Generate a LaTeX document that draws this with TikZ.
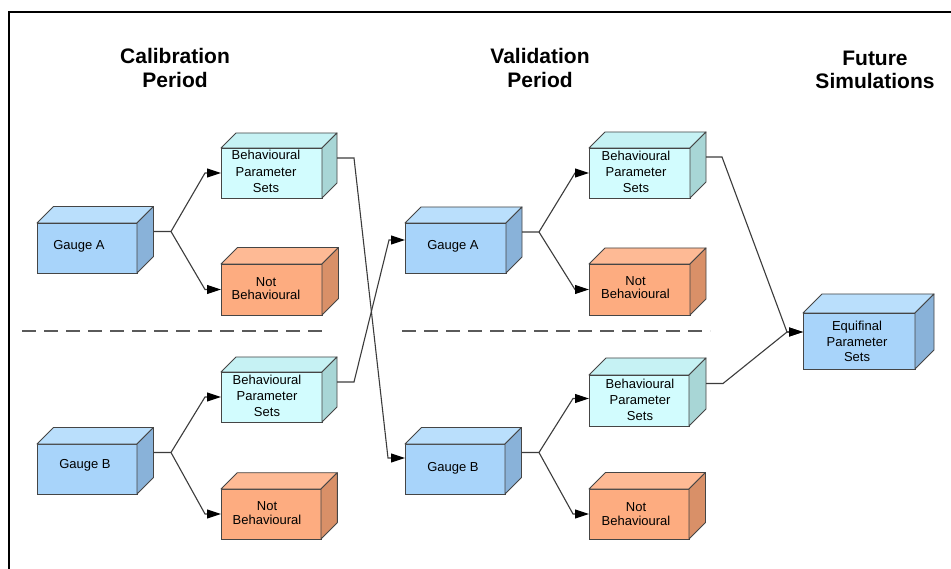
\documentclass[tikz,border=0pt]{standalone}
\usepackage{fontspec}
\setmainfont{Liberation Sans}
\usetikzlibrary{arrows.meta,calc}
\definecolor{edgec}{HTML}{454545}
\definecolor{linec}{HTML}{3C3C3C}
\definecolor{dashc}{HTML}{5A5A5A}
\definecolor{blueF}{HTML}{A8D4FA}
\definecolor{blueT}{HTML}{BADFFC}
\definecolor{blueS}{HTML}{89B2D9}
\definecolor{cyanF}{HTML}{D2FCFE}
\definecolor{cyanT}{HTML}{C6F2F4}
\definecolor{cyanS}{HTML}{A8D6D6}
\definecolor{oranF}{HTML}{FDAC80}
\definecolor{oranT}{HTML}{FEBA95}
\definecolor{oranS}{HTML}{D99068}
\tikzset{
  front/.style={draw=edgec, line width=0.9pt, inner sep=0pt, outer sep=0pt, anchor=north west},
  face/.style={draw=edgec, line width=0.9pt, line join=round},
  conn/.style={draw=linec, line width=1.1pt, -{Triangle[length=14pt,width=9pt,color=black]}},
  boxtxt/.style={anchor=base, align=center, inner sep=0pt, text=black},
  ttl/.style={anchor=base, align=center, inner sep=0pt, font=\bfseries\fontsize{21}{23.5}\selectfont},
  divider/.style={draw=dashc, line width=1.4pt, dash pattern=on 14pt off 8pt},
}
% name, x1, y1, x2, y2, depth, colour family
\newcommand\mkcube[7]{%
  \node[front, fill=#7F, minimum width={(#4-#2)*1pt}, minimum height={(#5-#3)*1pt}] (#1) at (#2,#3) {};
  \filldraw[face, fill=#7T] (#1.north west) -- ++(#6,-#6) -- ($(#1.north east)+(#6,-#6)$) -- (#1.north east) -- cycle;
  \filldraw[face, fill=#7S] (#1.north east) -- ++(#6,-#6) -- ($(#1.south east)+(#6,-#6)$) -- (#1.south east) -- cycle;
  \coordinate (#1-e) at ($(#1.east)+(#6,-#6)$);
}
\begin{document}
\begin{tikzpicture}[x=1pt, y=-1pt]
\useasboundingbox (0,0) rectangle (951,569);
\fill[white] (0,0) rectangle (951,569);
% frame
\draw[line width=2pt, black] (9,569) -- (9,12) -- (951,12);

% titles (y = baseline of last line)
\node[ttl] (tcal) at (175,87.3) {Calibration\\Period};
\node[ttl] (tval) at (540,87.3) {Validation\\Period};
\node[ttl] (tfut) at (875,89) {Future\\Simulations};

% dividers
\draw[divider] (22,331) -- (326,331);
\draw[divider] (402,331) -- (710,331);

% calibration column
\mkcube{cgA}{37}{223}{137}{273}{16.5}{blue}
\mkcube{cbA}{221}{148}{322}{198}{15}{cyan}
\mkcube{cnA}{221}{264}{322}{315}{16.5}{oran}
\mkcube{cgB}{37}{444}{137}{494}{16.5}{blue}
\mkcube{cbB}{221}{372}{322}{422}{15}{cyan}
\mkcube{cnB}{221}{489}{321}{539}{16.3}{oran}
% validation column
\mkcube{vgA}{405}{223}{506}{273}{16}{blue}
\mkcube{vbA}{589}{148}{690}{198}{16}{cyan}
\mkcube{vnA}{589}{264}{690}{315}{16}{oran}
\mkcube{vgB}{405}{444}{505}{494}{16.5}{blue}
\mkcube{vbB}{589}{375}{689}{426}{17}{cyan}
\mkcube{vnB}{589}{489}{689}{539}{16.5}{oran}
% future
\mkcube{eq}{803}{313}{915}{369}{19}{blue}

% texts (y = baseline of last line)
\node[boxtxt, font=\fontsize{13}{16}\selectfont] (cgA-t) at (79,250) {Gauge A};
\node[boxtxt, font=\fontsize{13}{16.5}\selectfont] (cbA-t) at (266,193) {Behavioural\\Parameter\\Sets};
\node[boxtxt, font=\fontsize{13}{13.4}\selectfont] (cnA-t) at (266,300) {Not\\Behavioural};
\node[boxtxt, font=\fontsize{13}{16}\selectfont] (cgB-t) at (85,468.3) {Gauge B};
\node[boxtxt, font=\fontsize{13}{16.3}\selectfont] (cbB-t) at (267,417) {Behavioural\\Parameter\\Sets};
\node[boxtxt, font=\fontsize{13}{13.2}\selectfont] (cnB-t) at (267,524) {Not\\Behavioural};
\node[boxtxt, font=\fontsize{13}{16}\selectfont] (vgA-t) at (453,249.5) {Gauge A};
\node[boxtxt, font=\fontsize{13}{16.2}\selectfont] (vbA-t) at (636,192.5) {Behavioural\\Parameter\\Sets};
\node[boxtxt, font=\fontsize{13}{13.2}\selectfont] (vnA-t) at (635.5,298.5) {Not\\Behavioural};
\node[boxtxt, font=\fontsize{13}{16}\selectfont] (vgB-t) at (453,471.5) {Gauge B};
\node[boxtxt, font=\fontsize{13}{16.2}\selectfont] (vbB-t) at (640,420.7) {Behavioural\\Parameter\\Sets};
\node[boxtxt, font=\fontsize{13}{13.3}\selectfont] (vnB-t) at (636,525) {Not\\Behavioural};
\node[boxtxt, font=\fontsize{13}{15.4}\selectfont] (eq-t) at (857,361.7) {Equifinal\\Parameter\\Sets};

% connectors: calibration
\draw[conn] (cgA-e) -- ++(17.5,0) coordinate (cgA-j) -- ($(cbA.west)+(-16,0)$) -- (cbA.west);
\draw[conn] (cgA-j) -- ($(cnA.west)+(-16,0)$) -- (cnA.west);
\draw[conn] (cgB-e) -- ++(17.5,0) coordinate (cgB-j) -- ($(cbB.west)+(-16,0)$) -- (cbB.west);
\draw[conn] (cgB-j) -- ($(cnB.west)+(-16,0)$) -- (cnB.west);
% crossing connectors
\draw[conn] (cbA-e) -- ++(17,0) -- ($(vgB.west)+(-17,-11)$) -- ($(vgB.west)+(0,-11)$);
\draw[conn] (cbB-e) -- ++(17,0) -- ($(vgA.west)+(-16,-8)$) -- ($(vgA.west)+(0,-8)$);
% validation
\draw[conn] (vgA-e) -- ++(17,0) coordinate (vgA-j) -- ($(vbA.west)+(-14,0)$) -- (vbA.west);
\draw[conn] (vgA-j) -- ($(vnA.west)+(-14,0)$) -- (vnA.west);
\draw[conn] (vgB-e) -- ++(17.5,0) coordinate (vgB-j) -- ($(vbB.west)+(-16,-2)$) -- ($(vbB.west)+(0,-2)$);
\draw[conn] (vgB-j) -- ($(vnB.west)+(-16,0)$) -- (vnB.west);
% to equifinal
\draw[conn] (vbA-e) -- ++(16,0) -- ($(eq.west)+(-16,-9)$) -- ($(eq.west)+(0,-9)$);
\draw[conn] (vbB-e) -- ++(17,0) -- ($(eq.west)+(-16,-9)$) -- ($(eq.west)+(0,-9)$);
\end{tikzpicture}
\end{document}
